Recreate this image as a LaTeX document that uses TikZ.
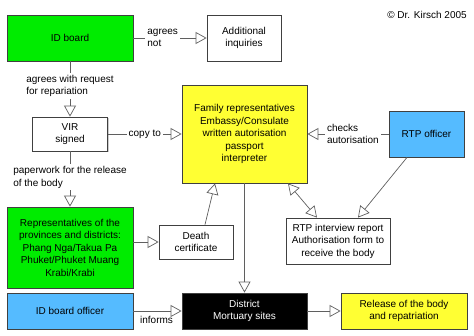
\documentclass[tikz,border=0pt]{standalone}
\usepackage{fontspec}
\setmainfont{Liberation Sans}
\usetikzlibrary{arrows.meta,shadows}
\definecolor{boxgreen}{RGB}{0,236,0}
\definecolor{boxyellow}{RGB}{255,255,51}
\definecolor{boxblue}{RGB}{85,187,255}
\definecolor{linegray}{RGB}{95,95,95}
\tikzset{
         box/.style=
          {
           draw=black!75, line width=0.8pt, inner sep=2pt, align=center,
           font=\fontsize{10}{12.5}\selectfont,
           drop shadow={shadow xshift=1.2pt,shadow yshift=-1.5pt,opacity=0.4}
          },
         conn/.style={draw=linegray, line width=0.7pt},
         lbl/.style={fill=white, inner sep=2pt, align=left, font=\fontsize{10}{12.5}\selectfont}
        }

\begin{document}
\begin{tikzpicture}[x=1pt,y=-1pt,>={Triangle[open,length=11pt,width=12pt]}]
      \useasboundingbox (0,0) rectangle (474,336); % page size
      \node[lbl,fill=none] (copy) at (427,15) {© Dr. Kirsch 2005}; % copyright
      \node[box,fill=boxgreen,minimum width=126,minimum height=46] (idb) at (70,38) {ID board}; % ID board
      \node[box,fill=white,minimum width=74,minimum height=46] (addinq) at (244,38) {Additional\\inquiries}; % inquiries
      \node[box,fill=white,minimum width=75,minimum height=34] (vir) at (70,134) {VIR\\signed}; % VIR
      \node[box,fill=boxyellow,minimum width=125,minimum height=98] (family) at (244.5,134)
           {Family representatives\\Embassy/Consulate\\written autorisation\\passport\\interpreter}; % family
      \node[box,fill=boxblue,minimum width=75,minimum height=46] (rtpo) at (426.5,134) {RTP officer}; % RTP officer
      \node[box,fill=white,minimum width=104,minimum height=46] (rtpr) at (338,241)
           {RTP interview report\\Authorisation form to\\receive the body}; % RTP report
      \node[box,fill=boxgreen,minimum width=126,minimum height=81] (reps) at (70,247.5)
           {Representatives of the\\provinces and districts:\\Phang Nga/Takua Pa\\Phuket/Phuket Muang\\Krabi/Krabi}; % provinces
      \node[box,fill=white,minimum width=74,minimum height=34] (death) at (196,242) {Death\\certificate}; % certificate
      \node[box,fill=boxblue,minimum width=126,minimum height=36] (idbo) at (70,311) {ID board officer}; % ID board officer
      \node[box,fill=black,text=white,minimum width=125,minimum height=36] (mort) at (244.5,311) {District\\Mortuary sites}; % mortuary
      \node[box,fill=boxyellow,minimum width=126,minimum height=36] (release) at (404,311)
           {Release of the body\\and repatriation}; % release
      \draw[conn,->] (idb) -- node[lbl,pos=0.4] {agrees\\not} (addinq); % Wiring
      \draw[conn,->] (idb) -- node[lbl,pos=0.44] {agrees with request\\for repariation} (vir); % Wiring
      \draw[conn,->] (vir) -- node[lbl,pos=0.5] {copy to} (family); % Wiring
      \draw[conn,->] (vir) -- node[lbl,pos=0.47] {paperwork for the release\\of the body} (reps); % Wiring
      \draw[conn,->] (rtpo) -- node[lbl,pos=0.44] {checks\\autorisation} (family); % Wiring
      \draw[conn,->] ([xshift=-19.5]rtpo.south) -- ([xshift=20]rtpr.north); % Wiring
      \draw[conn,<->] ([xshift=43.5]family.south) -- ([xshift=-21]rtpr.north); % Wiring
      \draw[conn,->] (reps.east |- death.west) -- (death.west); % Wiring
      \draw[conn,->] ([xshift=9]death.north) -- ([xshift=-29.5]family.south); % Wiring
      \draw[conn,->] (family) -- (mort); % Wiring
      \draw[conn,->] (idbo) -- node[lbl,fill=none,below,pos=0.48,yshift=-3] {informs} (mort); % Wiring
      \draw[conn,->] (mort) -- (release); % Wiring
   \end{tikzpicture}
\end{document}
